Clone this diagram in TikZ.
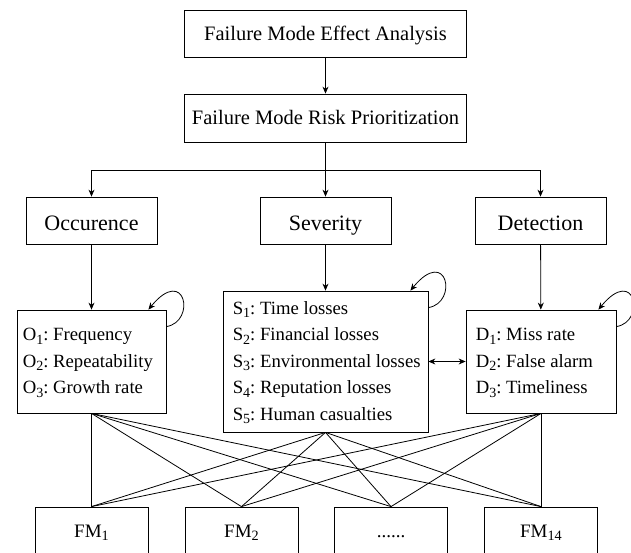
\documentclass[tikz,border=0pt]{standalone}
\usepackage{fontspec}
\usepackage{graphicx}
\setmainfont{Liberation Serif}
\usetikzlibrary{arrows.meta,calc}
\newcommand{\sbs}[1]{\raisebox{-0.2em}{\scalebox{0.75}{#1}}}
\begin{document}
\frenchspacing
\begin{tikzpicture}[x=1pt,y=-1pt,
  box/.style={draw, line width=0.8pt, inner sep=0pt, align=center},
  topbox/.style={box, minimum width=282pt, minimum height=47pt, text height=14pt, text depth=0pt, font=\fontsize{20.5}{24}\selectfont},
  midbox/.style={box, minimum width=131pt, minimum height=47pt, text height=19pt, text depth=0pt, font=\fontsize{22}{26}\selectfont},
  listbox/.style={draw, line width=0.8pt, inner sep=0pt},
  listtext/.style={inner sep=0pt, align=left, anchor=west, font=\fontsize{18.7}{26.5}\selectfont},
  fmbox/.style={box, minimum width=113pt, minimum height=47pt, text height=13pt, text depth=0pt, font=\fontsize{19}{23}\selectfont},
  arr/.style={-{Stealth[length=7pt,width=6pt]}, line width=0.8pt},
  darr/.style={{Stealth[length=7pt,width=6pt]}-{Stealth[length=7pt,width=6pt]}, line width=0.8pt},
  ln/.style={line width=0.8pt}]
\useasboundingbox (0,0) rectangle (631,553);
\node[topbox] (fmea) at (325.5,33.5) {Failure Mode Effect Analysis};
\node[topbox, minimum height=48pt] (fmrp) at (325.5,118) {Failure Mode Risk Prioritization};
\node[midbox] (occ) at (91.5,220.5) {Occurence};
\node[midbox] (sev) at (325.5,220.5) {Severity};
\node[midbox] (det) at (540.5,220.5) {Detection};
\node[listbox, minimum width=149pt, minimum height=103pt] (olist) at (91.5,361.5) {};
\node[listbox, minimum width=205pt, minimum height=141pt] (slist) at (325.5,361.5) {};
\node[listbox, minimum width=150pt, minimum height=103pt] (dlist) at (541,361.5) {};
\node[listtext] (otext) at ($(olist.west)+(6,1.5)$)
  {O\sbs{1}: Frequency\\O\sbs{2}: Repeatability\\O\sbs{3}: Growth rate};
\node[listtext] (stext) at ($(slist.west)+(10,1)$)
  {S\sbs{1}: Time losses\\S\sbs{2}: Financial losses\\S\sbs{3}: Environmental losses\\S\sbs{4}: Reputation losses\\S\sbs{5}: Human casualties};
\node[listtext] (dtext) at ($(dlist.west)+(10,1.5)$)
  {D\sbs{1}: Miss rate\\D\sbs{2}: False alarm\\D\sbs{3}: Timeliness};
\node[fmbox] (fm1) at (91.5,530.5) {FM\sbs{1}};
\node[fmbox] (fm2) at (241.5,530.5) {FM\sbs{2}};
\node[fmbox] (fm3) at (391,530.5) {......};
\node[fmbox] (fm4) at (541,530.5) {FM\sbs{14}};
\coordinate (junc) at (325.5,170);
\draw[arr] (fmea) -- (fmrp);
\draw[ln] (fmrp) -- (junc);
\draw[arr] (junc) -| (occ.north);
\draw[arr] (junc) -- (sev.north);
\draw[arr] (junc) -| (det.north);
\draw[arr] (occ) -- (olist);
\draw[arr] (sev) -- (slist);
\draw[arr] (det) -- (dlist);
\draw[darr] (slist.east) -- (dlist.west);
\foreach \b in {olist,slist,dlist}{
  \draw[arr] ($(\b.north east)+(0,17)$) .. controls +(30,-5) and +(37,-45) .. ($(\b.north east)+(-18,0)$);
}
\foreach \s in {olist,slist,dlist}{
  \foreach \f in {fm1,fm2,fm3,fm4}{
    \draw[ln] (\s.south) -- (\f.north);
  }
}
\end{tikzpicture}
\end{document}
